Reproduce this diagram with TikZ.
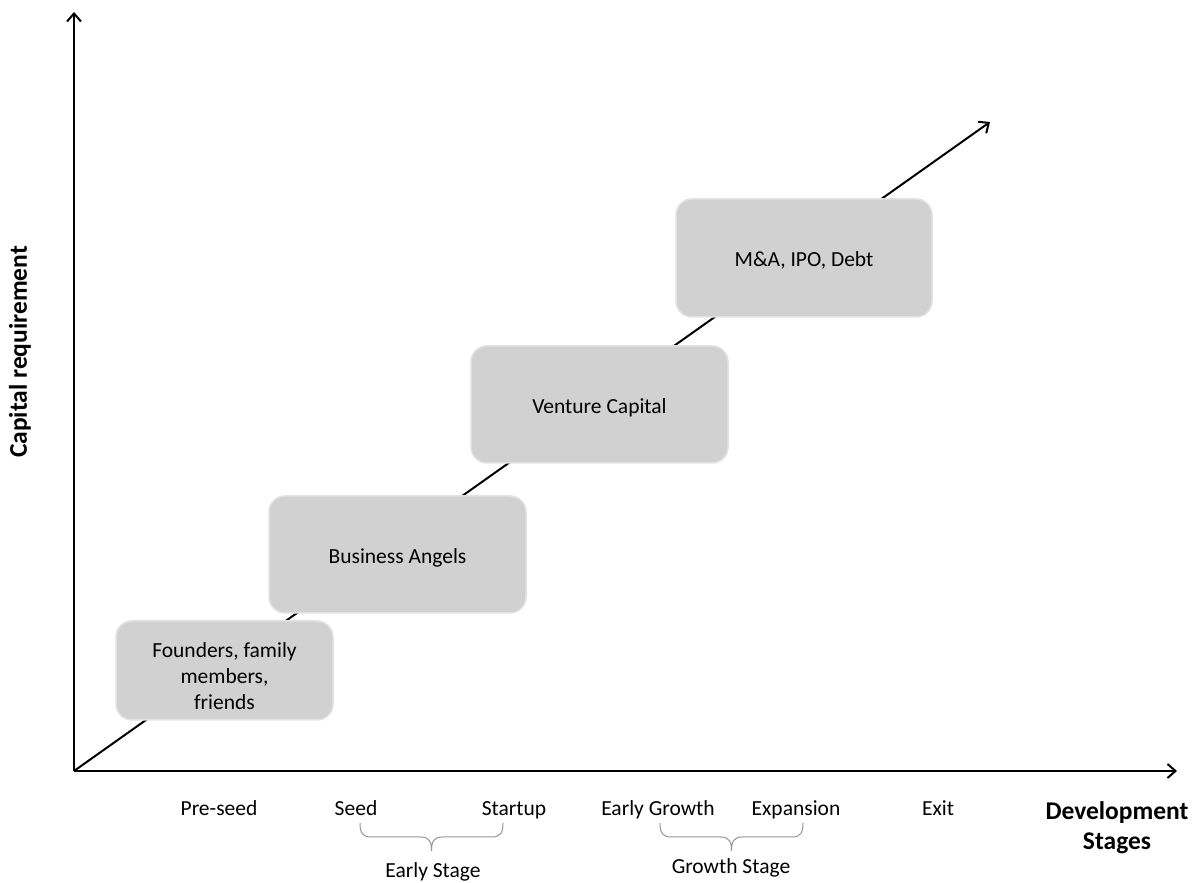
\documentclass[tikz,border=0pt]{standalone}
\usepackage{fontspec}
\setmainfont{Carlito}
\usetikzlibrary{arrows.meta}
\definecolor{boxgray}{RGB}{209,209,209}
\definecolor{boxedge}{RGB}{226,226,226}
\definecolor{bracegray}{RGB}{150,150,150}
\begin{document}
\begin{tikzpicture}[x=1pt,y=1pt,
  axis/.style={line width=2pt,-{Straight Barb[length=8pt,width=14pt,line width=2pt]}},
  fundbox/.style={rectangle, rounded corners=16pt, fill=boxgray, draw=boxedge, line width=1.5pt, inner sep=0pt},
  boxtext/.style={align=center, inner sep=0pt, font=\fontsize{21.5}{26}\selectfont},
  stage/.style={font=\fontsize{21.5}{26}\selectfont, inner sep=0pt, anchor=base},
  axislabel/.style={font=\fontsize{25.5}{30}\selectfont\bfseries, align=center, inner sep=0pt},
  bracestyle/.style={draw=bracegray, line width=1pt}]
\useasboundingbox (0,0) rectangle (1202,883);
\fill[white] (0,0) rectangle (1202,883);
% axes
\coordinate (O) at (74,112);
\coordinate (Ytop) at (74,871);
\coordinate (Xend) at (1177,112);
\coordinate (Dend) at (990,761);
\draw[axis] (O) -- (Ytop);
\draw[axis] (O) -- (Xend);
\draw[axis] (O) -- (Dend);
% boxes
\node[fundbox, minimum width=217pt, minimum height=99pt] (b1) at (224.5,212.5) {};
\node[fundbox, minimum width=257pt, minimum height=117pt] (b2) at (397.5,328.5) {};
\node[fundbox, minimum width=257pt, minimum height=117pt] (b3) at (599.5,478.5) {};
\node[fundbox, minimum width=256pt, minimum height=118pt] (b4) at (804,625) {};
\node[boxtext] (t1) at ([yshift=-6pt]b1.center) {Founders, family\\members,\\friends};
\node[boxtext] (t2) at ([yshift=-3pt]b2.center) {Business Angels};
\node[boxtext] (t3) at ([yshift=-3pt]b3.center) {Venture Capital};
\node[boxtext] (t4) at ([yshift=-2pt]b4.center) {M\&A, IPO, Debt};
% stage labels
\node[stage] (preseed) at (219,67) {Pre-seed};
\node[stage] (seed) at (356,67) {Seed};
\node[stage] (startup) at (514,67) {Startup};
\node[stage] (earlygrowth) at (658,67) {Early Growth};
\node[stage] (expansion) at (796,67) {Expansion};
\node[stage] (exit) at (938,67) {Exit};
% braces
\coordinate (e1) at (360,60);
\coordinate (e2) at (503,60);
\coordinate (g1) at (660,60);
\coordinate (g2) at (803,60);
\draw[bracestyle] (e1) .. controls +(0,-9) and +(-9,0) .. ++(11,-14) -- ++(49.5,0)
  .. controls +(9,0) and +(0,9) .. ++(11,-14) .. controls +(0,9) and +(-9,0) .. ++(11,14)
  -- ++(49.5,0) .. controls +(9,0) and +(0,-9) .. (e2);
\draw[bracestyle] (g1) .. controls +(0,-9) and +(-9,0) .. ++(11,-14) -- ++(49.5,0)
  .. controls +(9,0) and +(0,9) .. ++(11,-14) .. controls +(0,9) and +(-9,0) .. ++(11,14)
  -- ++(49.5,0) .. controls +(9,0) and +(0,-9) .. (g2);
\node[stage] (early) at (433,5.5) {Early Stage};
\node[stage] (growth) at (731,9) {Growth Stage};
% axis labels
\node[axislabel] (xlabel) at (1117,55) {Development\\Stages};
\node[axislabel, rotate=90] (ylabel) at (20,531) {Capital requirement};
\end{tikzpicture}
\end{document}
